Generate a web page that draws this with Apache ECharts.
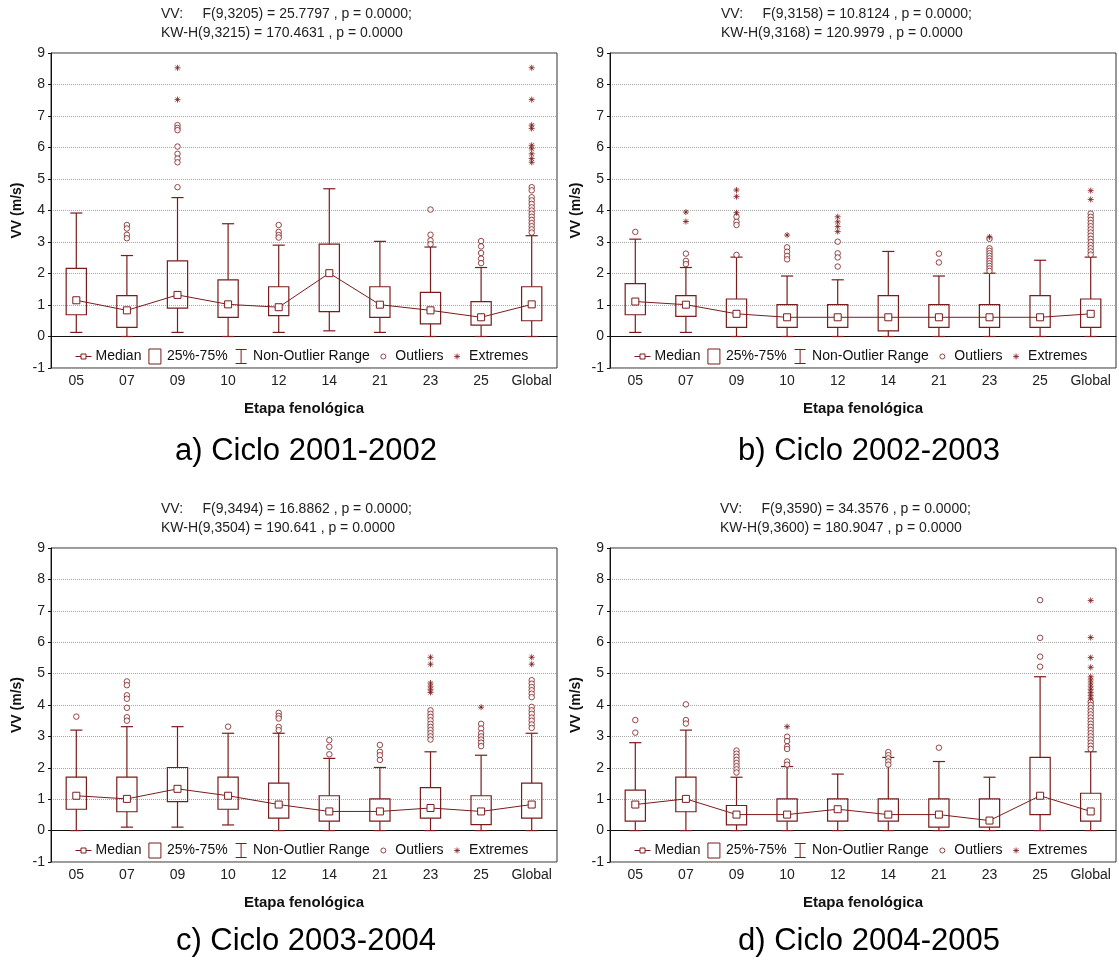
<!DOCTYPE html>
<html>
<head>
<meta charset="utf-8">
<script src="https://cdn.jsdelivr.net/npm/echarts/dist/echarts.min.js"></script>
<style>
  html, body { margin: 0; padding: 0; background: #fff; }
  #chart { width: 1119px; height: 970px; }
</style>
</head>
<body>
<div id="chart"></div>
<script>
// Wind speed (VV, m/s) by phenological stage, four crop cycles.
const categories = ['05', '07', '09', '10', '12', '14', '21', '23', '25', 'Global'];

// Cycle 2001-2002
const lowA  = [0.13, 0.00, 0.13, 0.00, 0.13, 0.18, 0.13, 0.00, 0.00, 0.00];
const q1A   = [0.69, 0.29, 0.90, 0.61, 0.66, 0.79, 0.61, 0.40, 0.36, 0.50];
const medA  = [1.15, 0.83, 1.32, 1.02, 0.93, 2.01, 1.01, 0.83, 0.61, 1.02];
const q3A   = [2.16, 1.30, 2.40, 1.80, 1.58, 2.93, 1.58, 1.40, 1.11, 1.58];
const highA = [3.92, 2.57, 4.41, 3.58, 2.90, 4.69, 3.02, 2.84, 2.19, 3.20];
const outliersA = [
  ['07', 3.54], ['07', 3.43], ['07', 3.23], ['07', 3.12],
  ['09', 6.71], ['09', 6.62], ['09', 6.55], ['09', 6.03], ['09', 5.80], ['09', 5.65], ['09', 5.53], ['09', 4.74],
  ['12', 3.54], ['12', 3.32], ['12', 3.22], ['12', 3.14],
  ['23', 4.03], ['23', 3.23], ['23', 3.05], ['23', 2.93],
  ['25', 3.03], ['25', 2.86], ['25', 2.65], ['25', 2.47], ['25', 2.33],
  ['Global', 4.74], ['Global', 4.64], ['Global', 4.42], ['Global', 4.32], ['Global', 4.21], ['Global', 4.10],
  ['Global', 4.00], ['Global', 3.90], ['Global', 3.80], ['Global', 3.70], ['Global', 3.60], ['Global', 3.50],
  ['Global', 3.40], ['Global', 3.30]
];
const extremesA = [
  ['09', 8.53], ['09', 7.52],
  ['Global', 8.53], ['Global', 7.52], ['Global', 6.71], ['Global', 6.60], ['Global', 6.07],
  ['Global', 5.96], ['Global', 5.80], ['Global', 5.65], ['Global', 5.53]
];

// Cycle 2002-2003
const lowB  = [0.13, 0.13, 0.00, 0.00, 0.00, 0.00, 0.00, 0.00, 0.00, 0.00];
const q1B   = [0.69, 0.64, 0.29, 0.29, 0.29, 0.18, 0.29, 0.29, 0.29, 0.29];
const medB  = [1.11, 1.01, 0.72, 0.61, 0.61, 0.61, 0.61, 0.61, 0.61, 0.72];
const q3B   = [1.68, 1.30, 1.19, 1.01, 1.01, 1.30, 1.01, 1.01, 1.30, 1.19];
const highB = [3.09, 2.19, 2.52, 1.92, 1.80, 2.70, 1.92, 2.01, 2.42, 2.52];
const outliersB = [
  ['05', 3.32],
  ['07', 2.63], ['07', 2.40], ['07', 2.30],
  ['09', 3.80], ['09', 3.64], ['09', 3.54], ['09', 2.59],
  ['10', 2.83], ['10', 2.69], ['10', 2.56], ['10', 2.45],
  ['12', 3.01], ['12', 2.64], ['12', 2.51], ['12', 2.22],
  ['21', 2.63], ['21', 2.35],
  ['23', 3.10], ['23', 2.80], ['23', 2.72], ['23', 2.64], ['23', 2.56], ['23', 2.48], ['23', 2.40],
  ['23', 2.32], ['23', 2.24], ['23', 2.16], ['23', 2.08],
  ['Global', 3.90], ['Global', 3.80], ['Global', 3.70], ['Global', 3.60], ['Global', 3.50], ['Global', 3.40],
  ['Global', 3.30], ['Global', 3.20], ['Global', 3.10], ['Global', 3.00], ['Global', 2.90], ['Global', 2.80],
  ['Global', 2.70], ['Global', 2.60]
];
const extremesB = [
  ['07', 3.95], ['07', 3.65],
  ['09', 4.65], ['09', 4.44], ['09', 3.93],
  ['10', 3.22],
  ['12', 3.80], ['12', 3.64], ['12', 3.49], ['12', 3.33],
  ['23', 3.16],
  ['Global', 4.63], ['Global', 4.35]
];

// Cycle 2003-2004
const lowC  = [0.00, 0.11, 0.11, 0.18, 0.00, 0.00, 0.00, 0.00, 0.00, 0.00];
const q1C   = [0.68, 0.60, 0.92, 0.68, 0.40, 0.30, 0.30, 0.40, 0.19, 0.40];
const medC  = [1.11, 1.01, 1.33, 1.11, 0.83, 0.61, 0.61, 0.72, 0.61, 0.83];
const q3C   = [1.70, 1.70, 2.01, 1.70, 1.51, 1.11, 1.01, 1.37, 1.11, 1.51];
const highC = [3.20, 3.31, 3.31, 3.10, 3.10, 2.30, 2.01, 2.51, 2.40, 3.10];
const outliersC = [
  ['05', 3.63],
  ['07', 4.75], ['07', 4.63], ['07', 4.31], ['07', 4.20], ['07', 3.91], ['07', 3.61], ['07', 3.50],
  ['10', 3.31],
  ['12', 3.75], ['12', 3.65], ['12', 3.57], ['12', 3.30], ['12', 3.20],
  ['14', 2.88], ['14', 2.67], ['14', 2.43],
  ['21', 2.73], ['21', 2.51], ['21', 2.40], ['21', 2.25],
  ['23', 3.83], ['23', 3.72], ['23', 3.62], ['23', 3.51], ['23', 3.40], ['23', 3.30], ['23', 3.20],
  ['23', 3.10], ['23', 3.00], ['23', 2.90],
  ['25', 3.40], ['25', 3.25], ['25', 3.10], ['25', 3.00], ['25', 2.90], ['25', 2.80], ['25', 2.69],
  ['Global', 4.79], ['Global', 4.68], ['Global', 4.57], ['Global', 4.47], ['Global', 4.36], ['Global', 4.25],
  ['Global', 3.94], ['Global', 3.83], ['Global', 3.72], ['Global', 3.60], ['Global', 3.50], ['Global', 3.38],
  ['Global', 3.27]
];
const extremesC = [
  ['23', 5.52], ['23', 5.30], ['23', 4.70], ['23', 4.60], ['23', 4.50], ['23', 4.40],
  ['25', 3.93],
  ['Global', 5.52], ['Global', 5.30]
];

// Cycle 2004-2005
const lowD  = [0.00, 0.00, 0.00, 0.00, 0.00, 0.00, 0.00, 0.00, 0.00, 0.00];
const q1D   = [0.30, 0.60, 0.18, 0.30, 0.30, 0.30, 0.11, 0.11, 0.51, 0.30];
const medD  = [0.83, 1.01, 0.51, 0.51, 0.68, 0.51, 0.51, 0.32, 1.11, 0.61];
const q3D   = [1.29, 1.70, 0.80, 1.01, 1.01, 1.01, 1.01, 1.01, 2.33, 1.19];
const highD = [2.80, 3.20, 1.70, 2.04, 1.80, 2.33, 2.20, 1.70, 4.90, 2.51];
const outliersD = [
  ['05', 3.52], ['05', 3.12],
  ['07', 4.02], ['07', 3.52], ['07', 3.41],
  ['09', 2.55], ['09', 2.45], ['09', 2.35], ['09', 2.25], ['09', 2.15], ['09', 2.05], ['09', 1.95], ['09', 1.85],
  ['10', 2.99], ['10', 2.85], ['10', 2.68], ['10', 2.60], ['10', 2.20], ['10', 2.10],
  ['14', 2.50], ['14', 2.40], ['14', 2.30], ['14', 2.20], ['14', 2.10],
  ['21', 2.64],
  ['25', 7.34], ['25', 6.14], ['25', 5.54], ['25', 5.22],
  ['Global', 4.10], ['Global', 4.00], ['Global', 3.90], ['Global', 3.80], ['Global', 3.70], ['Global', 3.60],
  ['Global', 3.50], ['Global', 3.40], ['Global', 3.30], ['Global', 3.20], ['Global', 3.10], ['Global', 3.00],
  ['Global', 2.90], ['Global', 2.80], ['Global', 2.70], ['Global', 2.60]
];
const extremesD = [
  ['10', 3.31],
  ['Global', 7.33], ['Global', 6.15], ['Global', 5.51], ['Global', 5.20], ['Global', 4.90], ['Global', 4.80],
  ['Global', 4.70], ['Global', 4.60], ['Global', 4.50], ['Global', 4.40], ['Global', 4.30], ['Global', 4.20]
];

const statLines = [
  ['VV:     F(9,3205) = 25.7797 , p = 0.0000;', 'KW-H(9,3215) = 170.4631 , p = 0.0000'],
  ['VV:     F(9,3158) = 10.8124 , p = 0.0000;', 'KW-H(9,3168) = 120.9979 , p = 0.0000'],
  ['VV:     F(9,3494) = 16.8862 , p = 0.0000;', 'KW-H(9,3504) = 190.641 , p = 0.0000'],
  ['VV:     F(9,3590) = 34.3576 , p = 0.0000;', 'KW-H(9,3600) = 180.9047 , p = 0.0000']
];
const captions = ['a) Ciclo 2001-2002', 'b) Ciclo 2002-2003', 'c) Ciclo 2003-2004', 'd) Ciclo 2004-2005'];

const RED = '#7b1c1c';
const FONT = '"Liberation Sans", Arial, sans-serif';

const panels = [
  { left: 51,  top: 53,  height: 315, low: lowA, q1: q1A, med: medA, q3: q3A, high: highA, out: outliersA, ext: extremesA },
  { left: 610, top: 53,  height: 315, low: lowB, q1: q1B, med: medB, q3: q3B, high: highB, out: outliersB, ext: extremesB },
  { left: 51,  top: 548, height: 314, low: lowC, q1: q1C, med: medC, q3: q3C, high: highC, out: outliersC, ext: extremesC },
  { left: 610, top: 548, height: 314, low: lowD, q1: q1D, med: medD, q3: q3D, high: highD, out: outliersD, ext: extremesD }
];
const captionPos = [[306, 451], [869, 451], [306, 941], [869, 941]];
const statPos = [[161, 5], [721, 5], [161, 500], [720, 500]];

const ASTERISK = 'path://M5 0L5 10M0 5L10 5M1.5 1.5L8.5 8.5M8.5 1.5L1.5 8.5';

function renderWhisker(params, api) {
  const i = api.value(0);
  const pLow = api.coord([i, api.value(1)]);
  const pQ1 = api.coord([i, api.value(2)]);
  const pQ3 = api.coord([i, api.value(3)]);
  const pHigh = api.coord([i, api.value(4)]);
  const half = api.size([1, 0])[0] * 0.12;
  const st = { stroke: RED, lineWidth: 1.2 };
  return {
    type: 'group',
    children: [
      { type: 'line', shape: { x1: pLow[0], y1: pLow[1], x2: pQ1[0], y2: pQ1[1] }, style: st },
      { type: 'line', shape: { x1: pQ3[0], y1: pQ3[1], x2: pHigh[0], y2: pHigh[1] }, style: st },
      { type: 'line', shape: { x1: pLow[0] - half, y1: pLow[1], x2: pLow[0] + half, y2: pLow[1] }, style: st },
      { type: 'line', shape: { x1: pHigh[0] - half, y1: pHigh[1], x2: pHigh[0] + half, y2: pHigh[1] }, style: st }
    ]
  };
}

function renderBox(params, api) {
  const i = api.value(0);
  const a = api.coord([i, api.value(1)]);
  const b = api.coord([i, api.value(2)]);
  const w = api.size([1, 0])[0] * 0.4;
  return {
    type: 'rect',
    shape: { x: a[0] - w / 2, y: b[1], width: w, height: a[1] - b[1] },
    style: { fill: 'none', stroke: RED, lineWidth: 1.2 }
  };
}

const legendItems = [
  { name: 'Median', icon: 'path://M0 0M16 16M0 8L5.5 8M10.5 8L16 8M5.5 5.5L10.5 5.5L10.5 10.5L5.5 10.5Z' },
  { name: '25%-75%', icon: 'path://M0 0M16 16M2 0.5L14 0.5L14 15.5L2 15.5Z' },
  { name: 'Non-Outlier Range', icon: 'path://M0 0M16 16M2.5 1L13.5 1M8 1L8 15M2.5 15L13.5 15' },
  { name: 'Outliers', icon: 'path://M0 0M16 16M5.5 8A2.5 2.5 0 1 1 10.5 8A2.5 2.5 0 1 1 5.5 8Z' },
  { name: 'Extremes', icon: 'path://M0 0M16 16M8 5L8 11M5 8L11 8M5.9 5.9L10.1 10.1M10.1 5.9L5.9 10.1' }
].map(d => Object.assign({}, d, { itemStyle: { color: '#fff', borderColor: RED, borderWidth: 1 } }));

const grid = [], xAxis = [], yAxis = [], series = [], legend = [], graphic = [];

panels.forEach((p, k) => {
  grid.push({
    left: p.left, top: p.top, width: 506, height: p.height,
    show: true, borderColor: '#333', borderWidth: 1, backgroundColor: '#fff'
  });
  xAxis.push({
    type: 'category', gridIndex: k, data: categories, boundaryGap: true,
    axisLine: { lineStyle: { color: '#111' } },
    axisTick: { show: false },
    axisLabel: { interval: 0, fontSize: 14, color: '#222', fontFamily: FONT, margin: 6 },
    name: 'Etapa fenológica', nameLocation: 'middle', nameGap: 33,
    nameTextStyle: { fontSize: 15, fontWeight: 'bold', color: '#111', fontFamily: FONT }
  });
  yAxis.push({
    type: 'value', gridIndex: k, min: -1, max: 9, interval: 1,
    axisLine: { show: true, lineStyle: { color: '#111' } },
    axisTick: { show: true, length: 3, lineStyle: { color: '#111' } },
    axisLabel: { fontSize: 14, color: '#222', fontFamily: FONT, margin: 6 },
    splitLine: { show: true, lineStyle: { color: '#a8a8a8', type: 'dotted' } },
    name: 'VV (m/s)', nameLocation: 'middle', nameGap: 27,
    nameTextStyle: { fontSize: 14, fontWeight: 'bold', color: '#111', fontFamily: FONT }
  });

  const rows = categories.map((c, i) => [i, p.low[i], p.q1[i], p.q3[i], p.high[i]]);
  series.push({
    name: 'Non-Outlier Range', type: 'custom', coordinateSystem: 'cartesian2d',
    xAxisIndex: k, yAxisIndex: k, renderItem: renderWhisker,
    encode: { x: 0, y: [1, 2, 3, 4] }, data: rows, z: 2
  });
  series.push({
    name: '25%-75%', type: 'custom', coordinateSystem: 'cartesian2d',
    xAxisIndex: k, yAxisIndex: k, renderItem: renderBox,
    encode: { x: 0, y: [1, 2] }, data: categories.map((c, i) => [i, p.q1[i], p.q3[i]]), z: 3
  });
  series.push({
    name: 'Median', type: 'line', xAxisIndex: k, yAxisIndex: k, data: p.med,
    symbol: 'rect', symbolSize: 7, showSymbol: true,
    itemStyle: { color: '#fff', borderColor: RED, borderWidth: 1 },
    lineStyle: { color: RED, width: 1 }, z: 4
  });
  series.push({
    name: 'Outliers', type: 'scatter', xAxisIndex: k, yAxisIndex: k, data: p.out,
    symbol: 'circle', symbolSize: 5.5,
    itemStyle: { color: '#fff', borderColor: RED, borderWidth: 1 }, z: 5
  });
  series.push({
    name: 'Extremes', type: 'scatter', xAxisIndex: k, yAxisIndex: k, data: p.ext,
    symbol: ASTERISK, symbolSize: 6, itemStyle: { color: RED, borderColor: RED, borderWidth: 1 }, z: 5
  });

  legend.push({
    left: p.left + 24, top: p.top + p.height - 20,
    itemWidth: 16, itemHeight: 16, itemGap: 5, padding: 0,
    selectedMode: false,
    textStyle: { fontSize: 14, color: '#111', fontFamily: FONT, padding: [0, 0, 0, -1] },
    data: legendItems
  });

  graphic.push({
    type: 'text', left: statPos[k][0], top: statPos[k][1],
    style: { text: statLines[k].join('\n'), font: '14px ' + FONT, fill: '#222', lineHeight: 19 }
  });
  graphic.push({
    type: 'text', x: captionPos[k][0], y: captionPos[k][1],
    style: { text: captions[k], font: '31px ' + FONT, fill: '#000', align: 'center', verticalAlign: 'middle' }
  });
});

const chart = echarts.init(document.getElementById('chart'), null, { renderer: 'canvas' });
chart.setOption({
  animation: false,
  backgroundColor: '#fff',
  textStyle: { fontFamily: FONT },
  grid, xAxis, yAxis, series, legend, graphic
});
</script>
</body>
</html>
